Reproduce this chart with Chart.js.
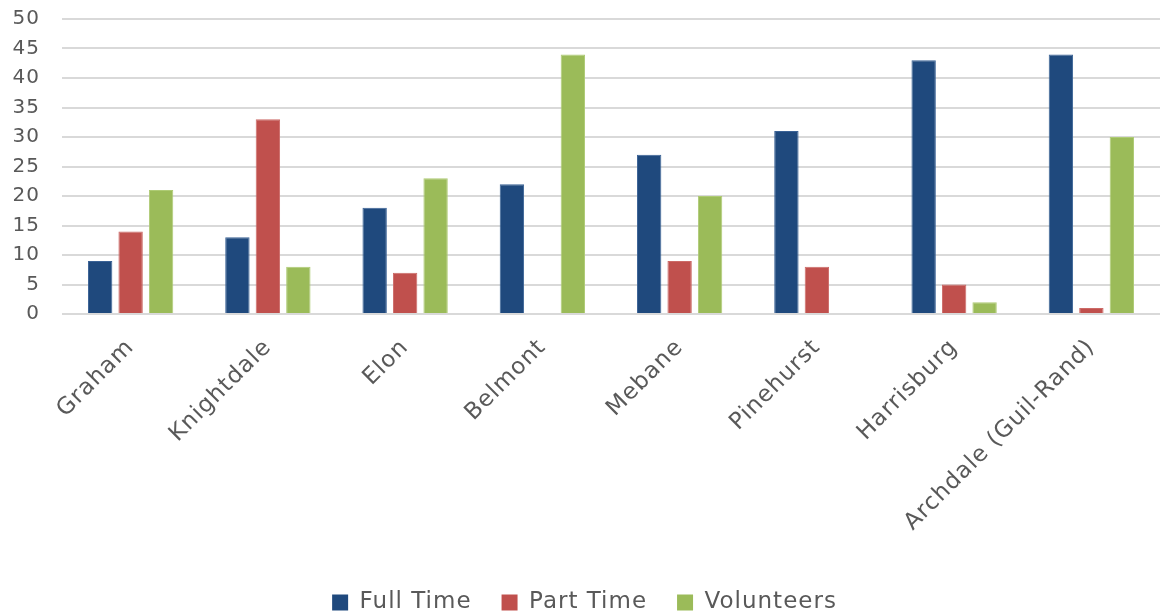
<!DOCTYPE html>
<html>
<head>
<meta charset="utf-8">
<script src="https://cdn.jsdelivr.net/npm/chart.js@4/dist/chart.umd.min.js"></script>
<style>
  html, body { margin: 0; padding: 0; background: #ffffff; }
  #wrap { width: 1160px; height: 616px; }
</style>
</head>
<body>
<div id="wrap"><canvas id="c" width="1160" height="616"></canvas></div>
<script>
// Staffing by department
const categories = ["Graham", "Knightdale", "Elon", "Belmont", "Mebane", "Pinehurst", "Harrisburg", "Archdale (Guil-Rand)"];
const fullTime   = [9, 13, 18, 22, 27, 31, 43, 44];
const partTime   = [14, 33, 7, 0, 9, 8, 5, 1];
const volunteers = [21, 8, 23, 44, 20, 0, 2, 30];
const yTicks     = [0, 5, 10, 15, 20, 25, 30, 35, 40, 45, 50];

const FONT = "'DejaVu Sans', sans-serif";
const TEXT = "#595959";

// Slightly open up the lettering of all chart text
const spacing = {
  id: "spacing",
  beforeUpdate(chart) { chart.ctx.letterSpacing = "1px"; },
  beforeDraw(chart) { chart.ctx.letterSpacing = "1px"; }
};

function series(label, data, fill, edge) {
  return {
    label, data,
    backgroundColor: fill,
    borderColor: edge,
    borderWidth: 1,
    categoryPercentage: 0.666,
    barPercentage: 0.8
  };
}

new Chart(document.getElementById("c"), {
  type: "bar",
  plugins: [spacing],
  data: {
    labels: categories,
    datasets: [
      series("Full Time", fullTime, "#1F497D", "#3A6296"),
      series("Part Time", partTime, "#C0504D", "#CC6A67"),
      series("Volunteers", volunteers, "#9BBB59", "#AECB74")
    ]
  },
  options: {
    responsive: false,
    animation: false,
    layout: { padding: { top: 19, right: -9, left: 0, bottom: -8 } },
    plugins: {
      tooltip: { enabled: false },
      legend: {
        position: "bottom",
        labels: {
          font: { family: FONT, size: 23 },
          color: TEXT,
          boxWidth: 16,
          boxHeight: 16,
          padding: 30,
          generateLabels(chart) {
            return chart.data.datasets.map((d, i) => ({
              text: d.label,
              fillStyle: d.backgroundColor,
              strokeStyle: d.backgroundColor,
              lineWidth: 0,
              fontColor: TEXT,
              datasetIndex: i
            }));
          }
        }
      }
    },
    scales: {
      x: {
        grid: { display: false, drawTicks: false },
        border: { display: false },
        ticks: {
          font: { family: FONT, size: 23 },
          color: TEXT,
          minRotation: 45,
          maxRotation: 45,
          padding: 20,
          autoSkip: false
        },
        afterFit(s) {
          s.height = 247;
          s.paddingLeft = 0; s.paddingRight = 0;
          s.paddingTop = 0; s.paddingBottom = 0;
        }
      },
      y: {
        min: 0,
        max: 50,
        afterBuildTicks(s) { s.ticks = yTicks.map(v => ({ value: v })); },
        grid: { color: "#D9D9D9", lineWidth: 2, drawTicks: false },
        border: { display: false },
        ticks: {
          font: { family: FONT, size: 20 },
          color: TEXT,
          padding: 22,
          stepSize: 5,
          autoSkip: false
        },
        afterFit(s) {
          s.width = 62;
          s.paddingTop = 0; s.paddingBottom = 0;
        }
      }
    }
  }
});
</script>
</body>
</html>
